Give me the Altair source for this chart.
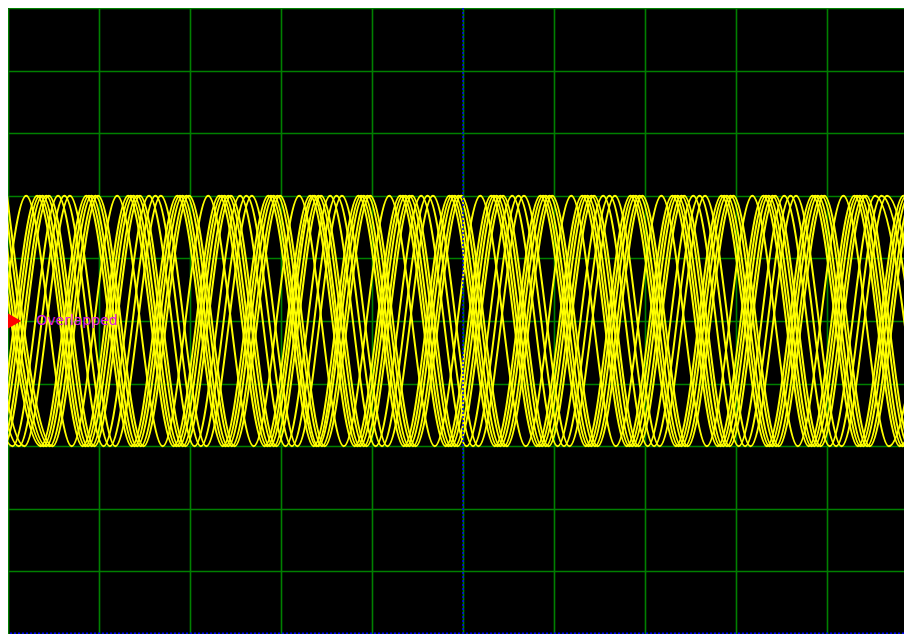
import altair as alt
import pandas as pd

# ---- values (x in horizontal divisions, y in vertical divisions) ----
# Each trace: x positions of its alternating extrema, starting with a peak (+2 div), then a trough (-2 div), ...
amplitude_div = 2.0
trace_extrema = {
    "B1": [-0.14, 0.36, 0.86, 1.36, 1.86, 2.36, 2.86, 3.36, 3.85, 4.35, 4.85, 5.35, 5.85, 6.35, 6.84, 7.34, 7.84, 8.34, 8.84, 9.34, 9.84, 10.33],
    "B2": [-0.11, 0.39, 0.89, 1.39, 1.89, 2.39, 2.89, 3.39, 3.88, 4.38, 4.88, 5.38, 5.88, 6.38, 6.87, 7.37, 7.87, 8.37, 8.87, 9.37, 9.87, 10.36],
    "B3": [-0.08, 0.42, 0.92, 1.42, 1.92, 2.42, 2.92, 3.41, 3.91, 4.41, 4.91, 5.41, 5.91, 6.41, 6.90, 7.40, 7.90, 8.40, 8.90, 9.40, 9.90, 10.39],
    "B4": [-0.04, 0.46, 0.96, 1.46, 1.96, 2.46, 2.96, 3.45, 3.95, 4.45, 4.95, 5.45, 5.95, 6.45, 6.94, 7.44, 7.94, 8.44, 8.94, 9.44, 9.94, 10.43],
    "B5": [-0.01, 0.49, 0.99, 1.49, 1.99, 2.49, 2.99, 3.48, 3.98, 4.48, 4.98, 5.48, 5.98, 6.48, 6.97, 7.47, 7.97, 8.47, 8.97, 9.47, 9.97, 10.46],
    "T1": [-0.80, -0.30, 0.20, 0.70, 1.20, 1.70, 2.20, 2.70, 3.20, 3.69, 4.19, 4.69, 5.19, 5.69, 6.19, 6.68, 7.18, 7.68, 8.18, 8.68, 9.18, 9.68, 10.17],
    "A1": [-0.68, -0.18, 0.32, 0.82, 1.32, 1.82, 2.32, 2.82, 3.32, 3.81, 4.31, 4.81, 5.31, 5.81, 6.31, 6.80, 7.30, 7.80, 8.30, 8.80, 9.30, 9.80, 10.29],
    "A2": [-0.65, -0.15, 0.35, 0.85, 1.35, 1.85, 2.35, 2.85, 3.35, 3.84, 4.34, 4.84, 5.34, 5.84, 6.34, 6.83, 7.33, 7.83, 8.33, 8.83, 9.33, 9.83, 10.32],
    "A3": [-0.62, -0.12, 0.38, 0.88, 1.38, 1.88, 2.38, 2.88, 3.37, 3.87, 4.37, 4.87, 5.37, 5.87, 6.37, 6.86, 7.36, 7.86, 8.36, 8.86, 9.36, 9.86, 10.35],
    "A4": [-0.58, -0.08, 0.42, 0.92, 1.42, 1.92, 2.42, 2.92, 3.41, 3.91, 4.41, 4.91, 5.41, 5.91, 6.41, 6.90, 7.40, 7.90, 8.40, 8.90, 9.40, 9.90, 10.39],
    "A5": [-0.55, -0.05, 0.45, 0.95, 1.45, 1.95, 2.45, 2.95, 3.44, 3.94, 4.44, 4.94, 5.44, 5.94, 6.44, 6.93, 7.43, 7.93, 8.43, 8.93, 9.43, 9.93, 10.42],
    "C1": [-0.45, 0.05, 0.55, 1.05, 1.55, 2.05, 2.55, 3.05, 3.54, 4.04, 4.54, 5.04, 5.54, 6.04, 6.54, 7.03, 7.53, 8.03, 8.53, 9.03, 9.53, 10.02],
    "C2": [-0.38, 0.12, 0.62, 1.12, 1.62, 2.12, 2.62, 3.12, 3.61, 4.11, 4.61, 5.11, 5.61, 6.11, 6.61, 7.10, 7.60, 8.10, 8.60, 9.10, 9.60, 10.09],
    "C3": [-0.32, 0.18, 0.68, 1.18, 1.68, 2.18, 2.68, 3.18, 3.67, 4.17, 4.67, 5.17, 5.67, 6.17, 6.67, 7.16, 7.66, 8.16, 8.66, 9.16, 9.66, 10.15],
}

x_domain = [0, 9.846]          # visible part of the 10-division screen
y_domain = [-5, 5]
x_grid = [0, 1, 2, 3, 4, 5, 6, 7, 8, 9]
y_grid = [-5, -4, -3, -2, -1, 0, 1, 2, 3, 4, 5]
center_x = [5]
bottom_y = [-4.99]
marker_label = ["Overlapped"]
marker_x = [0.06]
marker_y = [0.0]
label_x = [0.31]

# ---- build tables ----
rows = []
for name, xs in trace_extrema.items():
    for i, xv in enumerate(xs):
        rows.append({"trace": name, "idx": i, "x": xv,
                     "y": amplitude_div if i % 2 == 0 else -amplitude_div})
waves_df = pd.DataFrame(rows)

xs_scale = alt.Scale(domain=x_domain, nice=False, zero=False)
ys_scale = alt.Scale(domain=y_domain, nice=False, zero=False)

x_axis = alt.Axis(values=x_grid, grid=True, labels=False, ticks=False, domain=False,
                  title=None, gridColor="#008000", gridWidth=1.6, gridOpacity=1)
y_axis = alt.Axis(values=y_grid, grid=True, labels=False, ticks=False, domain=False,
                  title=None, gridColor="#008000", gridWidth=1.6, gridOpacity=1)

waves = alt.Chart(waves_df).mark_line(
    interpolate="monotone", color="#ffff00", strokeWidth=2.0, clip=True
).encode(
    x=alt.X("x:Q", scale=xs_scale, axis=x_axis),
    y=alt.Y("y:Q", scale=ys_scale, axis=y_axis),
    detail="trace:N",
    order="idx:Q",
)

center = alt.Chart(pd.DataFrame({"x": center_x})).mark_rule(
    color="#0000ff", strokeWidth=1.5, strokeDash=[2, 2]
).encode(x=alt.X("x:Q", scale=xs_scale))

bottom = alt.Chart(pd.DataFrame({"y": bottom_y})).mark_rule(
    color="#0000ff", strokeWidth=1.5, strokeDash=[2, 2]
).encode(y=alt.Y("y:Q", scale=ys_scale))

marker = alt.Chart(pd.DataFrame({"x": marker_x, "y": marker_y})).mark_point(
    shape="triangle-right", filled=True, color="#ff0000", size=320, opacity=1
).encode(x=alt.X("x:Q", scale=xs_scale), y=alt.Y("y:Q", scale=ys_scale))

label = alt.Chart(pd.DataFrame({"x": label_x, "y": marker_y, "t": marker_label})).mark_text(
    align="left", baseline="middle", color="#e020e0", fontSize=14, font="DejaVu Sans"
).encode(x=alt.X("x:Q", scale=xs_scale), y=alt.Y("y:Q", scale=ys_scale), text="t:N")

chart = alt.layer(waves, center, bottom, marker, label).properties(
    width=896, height=626, padding=0, autosize=alt.AutoSizeParams(type="none"),
    background="#a0a0a0"
).configure_view(fill="#000000", stroke=None)

chart.save("out.html", embed_options={"renderer": "svg", "actions": False})
